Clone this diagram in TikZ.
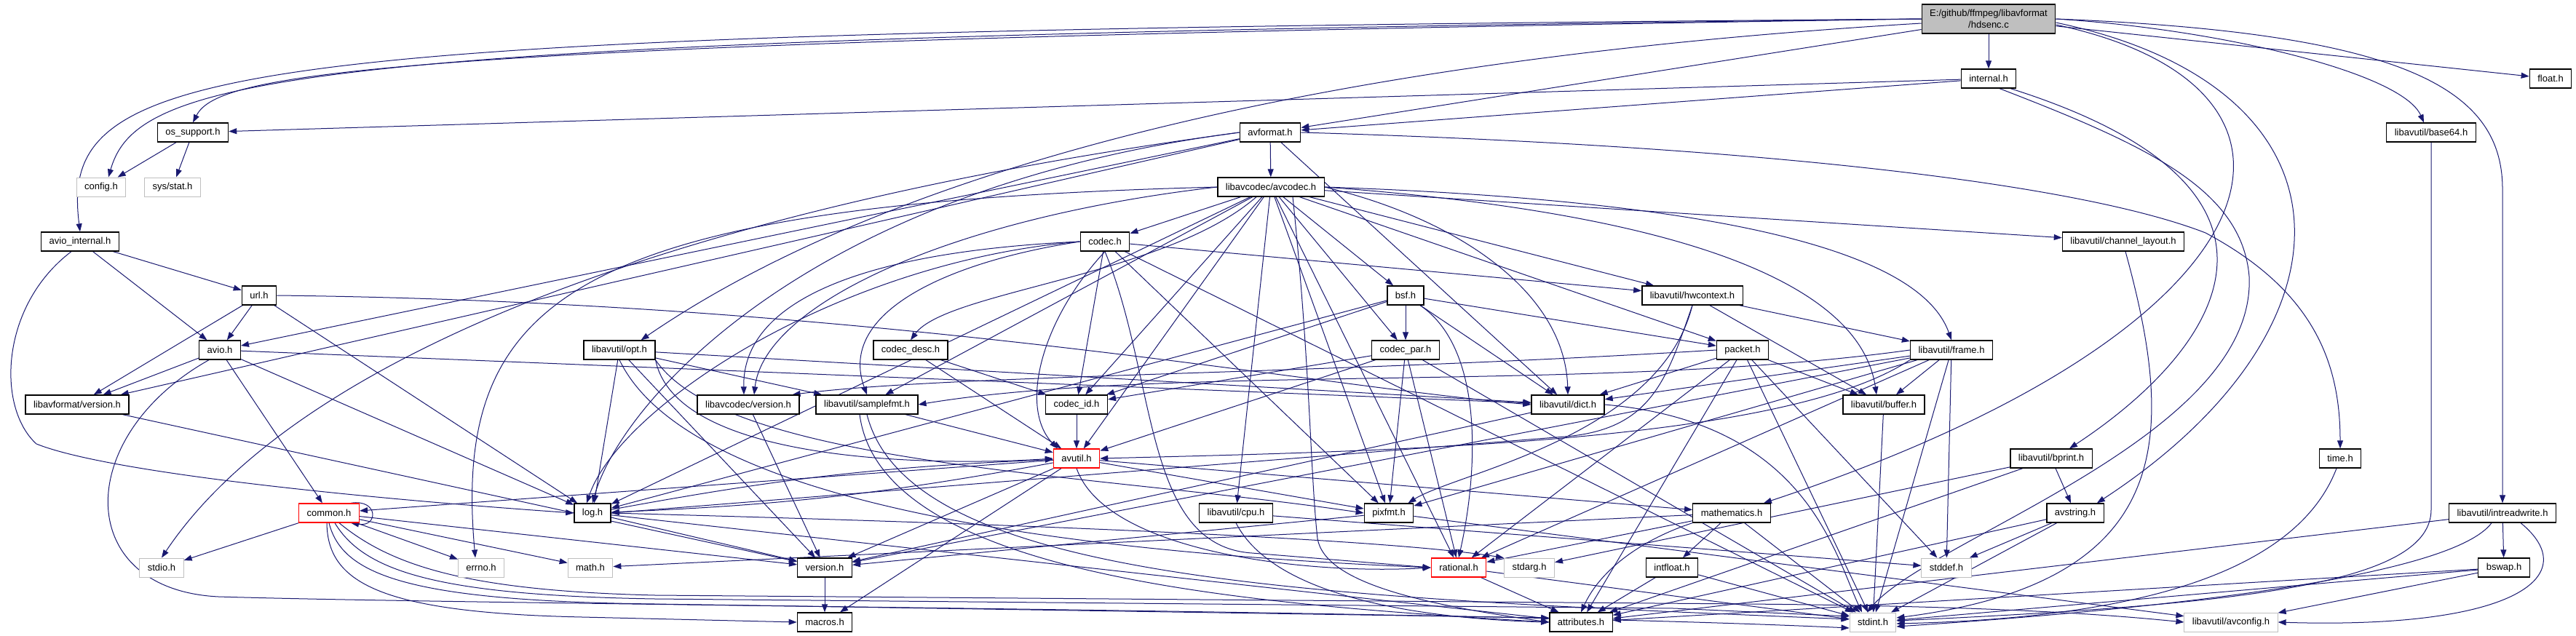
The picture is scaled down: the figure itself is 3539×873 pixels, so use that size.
\documentclass[tikz,border=0pt]{standalone}
\usepackage{fontspec}
\newfontfamily\dotfont{Liberation Sans}
\usepackage{tikz}
\usetikzlibrary{arrows.meta,backgrounds}
\definecolor{dotblue}{RGB}{25,25,112}
\definecolor{sysgray}{RGB}{191,191,191}

\tikzset{
  hdr/.style={draw=black, line width=1.3pt, fill=white, minimum height=26pt,
    inner xsep=11pt, inner ysep=0pt, font=\dotfont\fontsize{13}{15.5}\selectfont},
  sys/.style={hdr, draw=sysgray, line width=1pt},
  trunc/.style={hdr, draw=red},
  inc/.style={draw=dotblue, line width=1pt, -{Triangle[length=11pt,width=8pt]}},
}

\begin{document}
\begin{tikzpicture}[x=1pt,y=1pt]
  \useasboundingbox (0,0) rectangle (3539,-873);
  % rank 0 -- 3
  \node[hdr, fill=sysgray, minimum width=181pt, minimum height=40pt, align=center] (hds) at (2732,-26) {E:/github/ffmpeg/libavformat\\/hdsenc.c};
  \node[hdr] (internal) at (2732,-108) {internal.h};
  \node[hdr] (floath) at (3504,-108) {float.h};
  \node[hdr] (ossup) at (265,-182) {os\_support.h};
  \node[hdr] (avformat) at (1745,-182) {avformat.h};
  \node[hdr] (base64) at (3340,-182) {libavutil/base64.h};
  \node[sys] (config) at (139,-257) {config.h};
  \node[sys] (sysstat) at (237,-257) {sys/stat.h};
  \node[hdr] (avcodec) at (1746,-257) {libavcodec/avcodec.h};
  % rank 4 -- 7
  \node[hdr] (aviointernal) at (110,-332) {avio\_internal.h};
  \node[hdr] (codec) at (1518,-332) {codec.h};
  \node[hdr] (chlayout) at (2917,-332) {libavutil/channel\_layout.h};
  \node[hdr] (url) at (356,-406) {url.h};
  \node[hdr] (bsf) at (1931,-406) {bsf.h};
  \node[hdr] (hwctx) at (2325,-406) {libavutil/hwcontext.h};
  \node[hdr] (avio) at (302,-481) {avio.h};
  \node[hdr] (opt) at (851,-481) {libavutil/opt.h};
  \node[hdr] (codecdesc) at (1251,-481) {codec\_desc.h};
  \node[hdr] (codecpar) at (1931,-481) {codec\_par.h};
  \node[hdr] (packet) at (2394,-481) {packet.h};
  \node[hdr] (frame) at (2681,-481) {libavutil/frame.h};
  \node[hdr] (lavfver) at (106,-556) {libavformat/version.h};
  \node[hdr] (lavcver) at (1028,-556) {libavcodec/version.h};
  \node[hdr] (samplefmt) at (1191,-556) {libavutil/samplefmt.h};
  \node[hdr] (codecid) at (1479,-556) {codec\_id.h};
  \node[hdr] (dict) at (2154,-556) {libavutil/dict.h};
  \node[hdr] (buffer) at (2588,-556) {libavutil/buffer.h};
  % rank 8 -- 11
  \node[trunc] (avutil) at (1479,-630) {avutil.h};
  \node[hdr] (bprint) at (2818,-630) {libavutil/bprint.h};
  \node[hdr] (timeh) at (3215,-630) {time.h};
  \node[trunc] (common) at (452,-705) {common.h};
  \node[hdr] (log) at (814,-705) {log.h};
  \node[hdr] (cpu) at (1698,-705) {libavutil/cpu.h};
  \node[hdr] (pixfmt) at (1908,-705) {pixfmt.h};
  \node[hdr] (mathem) at (2379,-705) {mathematics.h};
  \node[hdr] (avstring) at (2851,-705) {avstring.h};
  \node[hdr] (intrw) at (3438,-705) {libavutil/intreadwrite.h};
  \node[sys] (stdio) at (222,-780) {stdio.h};
  \node[sys] (errno) at (661,-780) {errno.h};
  \node[sys] (math) at (811,-780) {math.h};
  \node[hdr] (version) at (1133,-780) {version.h};
  \node[trunc] (rational) at (2004,-780) {rational.h};
  \node[sys] (stdarg) at (2101,-780) {stdarg.h};
  \node[hdr] (intfloat) at (2297,-780) {intfloat.h};
  \node[sys] (stddef) at (2674,-780) {stddef.h};
  \node[hdr] (bswap) at (3440,-780) {bswap.h};
  \node[hdr] (macros) at (1133,-855) {macros.h};
  \node[hdr] (attributes) at (2172,-855) {attributes.h};
  \node[sys] (stdint) at (2573,-855) {stdint.h};
  \node[sys] (avconfig) at (3065,-855) {libavutil/avconfig.h};

  \begin{scope}[on background layer]
  % straight includes
  \foreach \a/\b in {hds/internal, hds/floath, hds/avformat, internal/avformat, internal/ossup,
      ossup/config, ossup/sysstat, avformat/avcodec, avformat/dict, avformat/avio, avformat/lavfver,
      aviointernal/avio, aviointernal/url, url/avio, url/lavfver, url/log,
      avio/common, avio/dict, avio/log, avio/lavfver, lavfver/version}
    \draw[inc] (\a) -- (\b);
  \foreach \b in {samplefmt, avutil, cpu, chlayout, hwctx, log, pixfmt, rational, bsf, codec, codecpar, codecid, packet}
    \draw[inc] (avcodec) -- (\b);
  \foreach \a/\b in {codec/stdint, codec/hwctx, codec/pixfmt, codec/codecid,
      codecdesc/avutil, codecdesc/codecid, codecid/avutil,
      codecpar/stdint, codecpar/avutil, codecpar/rational, codecpar/pixfmt, codecpar/codecid,
      bsf/dict, bsf/log, bsf/codecid, bsf/codecpar, bsf/packet,
      packet/stddef, packet/stdint, packet/attributes, packet/buffer, packet/dict, packet/rational,
      hwctx/buffer, hwctx/frame,
      frame/stddef, frame/stdint, frame/buffer, frame/dict, frame/rational, frame/pixfmt, frame/version,
      dict/version, buffer/stdint, samplefmt/avutil,
      opt/dict, opt/log, opt/samplefmt, opt/version, lavcver/version,
      avutil/common, avutil/version, avutil/macros, avutil/mathem, avutil/pixfmt,
      log/attributes, log/version, common/stdio, common/errno, common/math, common/version,
      pixfmt/version, pixfmt/avconfig, rational/stdint, rational/attributes, version/macros,
      mathem/stdint, mathem/math, mathem/rational, mathem/intfloat,
      intfloat/stdint, intfloat/attributes, cpu/stddef,
      bprint/stdarg, bprint/attributes, bprint/avstring,
      avstring/stddef, avstring/stdint, avstring/attributes,
      intrw/attributes, intrw/bswap, bswap/stdint, bswap/avconfig, bswap/attributes}
    \draw[inc] (\a) -- (\b);
  \draw[inc] (avutil) to[bend left=4] (log);
  \draw[inc] (log) to[bend left=4] (avutil);

  % hdsenc.c
  \draw[inc] (hds.west) .. controls (300,-45) and (80,-80) .. (aviointernal.north);
  \draw[inc] (hds.west) .. controls (420,-52) and (190,-100) .. ([xshift=10pt]config.north);
  \draw[inc] (hds.west) .. controls (520,-58) and (300,-100) .. (ossup.north);
  \draw[inc] ([yshift=-6pt]hds.west) .. controls (2000,-70) and (1300,-180) .. ([xshift=-20pt]opt.north east);
  \draw[inc] (hds.east) .. controls (3050,-40) and (3300,-100) .. ([xshift=-10pt]base64.north);
  \draw[inc] (hds.east) .. controls (3300,-45) and (3438,-120) .. (3438,-260) -- (intrw.north);
  \draw[inc] ([yshift=-8pt]hds.east) .. controls (3230,-120) and (3150,-450) .. ([xshift=-10pt]mathem.north east);
  \draw[inc] ([yshift=-5pt]hds.east) .. controls (3250,-120) and (3250,-450) .. ([xshift=-10pt]avstring.north east);
  % internal.h, avformat.h
  \draw[inc] ([xshift=30pt]internal.south) .. controls (3200,-260) and (3050,-480) .. ([xshift=25pt]bprint.north);
  \draw[inc] ([xshift=15pt]internal.south) .. controls (2950,-200) and (3080,-260) .. (3090,-380)
    .. controls (3100,-600) and (2650,-740) .. ([xshift=-8pt]stdint.north);
  \draw[inc] (avformat.east) .. controls (2400,-200) and (2850,-250) .. (3030,-320)
    .. controls (3180,-400) and (3215,-500) .. (timeh.north);
  \draw[inc] (avformat.west) .. controls (900,-290) and (400,-500) .. (stdio.north);
  \draw[inc] (avformat.west) .. controls (1100,-260) and (850,-560) .. (log.north);
  % avio_internal.h, url.h, avio.h
  \draw[inc] ([xshift=-12pt]aviointernal.south) .. controls (0,-420) and (-5,-560) .. (50,-610)
    .. controls (150,-650) and (500,-685) .. (log.west);
  \draw[inc] (url.east) .. controls (1200,-415) and (1800,-530) .. (dict.west);
  \draw[inc] ([xshift=-15pt]avio.south) .. controls (100,-600) and (100,-810) .. (300,-820)
    .. controls (700,-832) and (2000,-838) .. ([yshift=-8pt]stdint.west);
  % avcodec.h
  \draw[inc] (avcodec.west) .. controls (800,-280) and (620,-400) .. ([xshift=-8pt]errno.north);
  \draw[inc] ([xshift=30pt]avcodec.south) .. controls (1800,-500) and (1800,-650) .. (1810,-740)
    .. controls (1820,-800) and (1950,-830) .. (attributes.west);
  \draw[inc] (avcodec.east) .. controls (2000,-300) and (2150,-400) .. (dict.north);
  \draw[inc] (avcodec.east) .. controls (2500,-280) and (2650,-380) .. (frame.north);
  \draw[inc] (avcodec.east) .. controls (2400,-300) and (2560,-420) .. ([xshift=-10pt]buffer.north);
  \draw[inc] (avcodec.west) .. controls (1300,-300) and (1050,-420) .. ([xshift=8pt]lavcver.north);
  \draw[inc] ([xshift=-20pt]avcodec.south) .. controls (1600,-380) and (1300,-400) .. (codecdesc.north);
  % codec.h, bsf.h, packet.h
  \draw[inc] (codec.south) .. controls (1430,-440) and (1400,-560) .. ([xshift=6pt]avutil.north west);
  \draw[inc] (codec.west) .. controls (1150,-360) and (850,-560) .. ([xshift=-8pt]log.north);
  \draw[inc] (codec.south) .. controls (1590,-520) and (1570,-750) .. (1720,-760) -- (rational.west);
  \draw[inc] (codec.west) .. controls (1300,-360) and (1150,-430) .. (samplefmt.north);
  \draw[inc] (codec.west) .. controls (1100,-350) and (1020,-450) .. ([xshift=-6pt]lavcver.north);
  \draw[inc] ([xshift=20pt]bsf.south) .. controls (2040,-480) and (2030,-650) .. (rational.north);
  \draw[inc] (packet.west) .. controls (1800,-515) and (1300,-515) .. ([xshift=-10pt]lavcver.north east);
  % hwcontext.h, frame.h, dict.h
  \draw[inc] (hwctx.south) .. controls (2290,-520) and (2270,-590) .. (2150,-600) -- (log.east);
  \draw[inc] (hwctx.south) .. controls (2280,-600) and (2000,-650) .. ([xshift=-8pt]pixfmt.north east);
  \draw[inc] (frame.south west) .. controls (2450,-610) and (1900,-620) .. (avutil.east);
  \draw[inc] (frame.west) .. controls (2200,-540) and (1600,-500) .. (samplefmt.east);
  \draw[inc] (dict.east) .. controls (2480,-580) and (2520,-760) .. ([xshift=-15pt]stdint.north);
  % samplefmt.h, opt.h, avutil.h, log.h
  \draw[inc] (samplefmt.south) .. controls (1250,-800) and (1800,-820) .. ([yshift=4pt]stdint.west);
  \draw[inc] ([xshift=-10pt]samplefmt.south) .. controls (1210,-790) and (1700,-830) .. (attributes.west);
  \draw[inc] (opt.south) .. controls (950,-700) and (1500,-760) .. (rational.west);
  \draw[inc] (opt.south east) .. controls (930,-640) and (1300,-640) .. (avutil.west);
  \draw[inc] (opt.south east) .. controls (1000,-640) and (1500,-650) .. (pixfmt.west);
  \draw[inc] (avutil.south) .. controls (1520,-760) and (1800,-790) .. (rational.west);
  \draw[inc] (log.east) .. controls (1400,-720) and (1900,-740) .. (stdarg.north west);
  \draw[inc] (cpu.south) .. controls (1750,-820) and (1950,-850) .. (attributes.west);
  \draw[inc] (mathem.south west) .. controls (2260,-740) and (2200,-780) .. (attributes.north);
  % common.h
  \draw[inc] ([xshift=-3pt]common.south) .. controls (450,-800) and (520,-842) .. (800,-848) -- (macros.west);
  \draw[inc] (common.south) .. controls (470,-790) and (560,-826) .. (900,-830) -- ([yshift=6pt]attributes.west);
  \draw[inc] ([xshift=8pt]common.south) .. controls (500,-785) and (600,-818) .. (900,-823) -- (2300,-836) -- ([yshift=8pt]stdint.west);
  \draw[inc] ([xshift=14pt]common.south) .. controls (540,-780) and (650,-812) .. (900,-818) -- (2400,-830)
    .. controls (2750,-833) and (2900,-845) .. (avconfig.west);
  \draw[inc] ([xshift=-12pt]common.north east) .. controls +(38,6) and +(38,-6) .. ([xshift=-12pt]common.south east);
  % right hand side
  \draw[inc] ([xshift=25pt]intrw.south) .. controls (3550,-790) and (3460,-865) .. (avconfig.east);
  \draw[inc] ([xshift=-15pt]intrw.south) .. controls (3370,-790) and (3000,-835) .. ([yshift=-6pt]stdint.east);
  \draw[inc] ([xshift=3pt]chlayout.south) .. controls (2990,-600) and (2990,-800) .. ([yshift=6pt]stdint.east);
  \draw[inc] (base64.south) -- (3340,-700) .. controls (3340,-800) and (3100,-830) .. ([yshift=2pt]stdint.east);
  \draw[inc] ([xshift=-5pt]timeh.south) .. controls (3150,-800) and (2900,-850) .. ([yshift=-2pt]stdint.east);
  \end{scope}
\end{tikzpicture}
\end{document}
